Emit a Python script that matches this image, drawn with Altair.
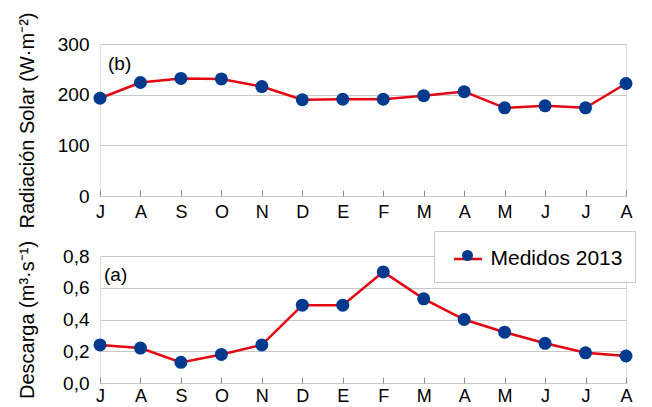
import altair as alt
import pandas as pd

months = ["J", "A", "S", "O", "N", "D", "E", "F", "M", "A", "M", "J", "J", "A"]
radiacion = [193, 224, 232, 231, 216, 190, 191, 191, 198, 206, 174, 178, 174, 222]
descarga = [0.24, 0.22, 0.13, 0.18, 0.24, 0.49, 0.49, 0.70, 0.53, 0.40, 0.32, 0.25, 0.19, 0.17]
serie = "Medidos 2013"
idx = list(range(len(months)))

df_top = pd.DataFrame({"i": idx, "v": radiacion})
df_bot = pd.DataFrame({"i": idx, "v": descarga, "serie": serie, "serie2": serie})
df_lab_top = pd.DataFrame({"i": [0], "v": [260.5], "t": ["(b)"]})
df_lab_bot = pd.DataFrame({"i": [0], "v": [0.683], "t": ["(a)"]})

label_expr = "[" + ",".join(f"'{m}'" for m in months) + "][datum.value]"
FONT = "Liberation Sans"
RED = "#e30613"
BLUE = "#003a8f"
GRID = "#c8c8c8"
BORDER = "#8c8c8c"


def xenc(label_pad):
    return alt.X(
        "i:O",
        scale=alt.Scale(type="point", padding=0),
        axis=alt.Axis(
            title=None, labelExpr=label_expr, labelAngle=0, offset=-6, tickSize=6,
            domain=False, labelPadding=label_pad, labelFontSize=18, tickColor=BORDER,
            grid=False, labelColor="black", labelFont=FONT,
        ),
    )


def yaxis(title, values, pad, fmt=None):
    kw = dict(
        values=values, tickCount=len(values), title=title, ticks=False, tickSize=0,
        domain=False, labelPadding=11, labelFontSize=19, labelFont=FONT,
        labelColor="black", labelOverlap=False,
        titleFontSize=20, titleFont=FONT, titleFontWeight="normal", titleColor="black",
        titlePadding=pad, gridColor=GRID, grid=True,
    )
    if fmt:
        kw["labelExpr"] = fmt
    return alt.Axis(**kw)


LEG_X = 334
LEG_Y = 187
LEG_PAD = 12.5
NB = "\u00a0" * 2

top_y = alt.Y("v:Q", scale=alt.Scale(domain=[0, 300], nice=False),
              axis=yaxis("Radiación Solar (W·m⁻²)", [0, 100, 200, 300], 20))
top_line = alt.Chart(df_top).mark_line(color=RED, strokeWidth=2.5).encode(x=xenc(7), y=top_y)
top_pts = alt.Chart(df_top).mark_circle(color=BLUE, size=169, opacity=1).encode(x="i:O", y="v:Q")
top_txt = alt.Chart(df_lab_top).mark_text(align="left", baseline="middle", dx=8, fontSize=19,
                                          font=FONT, color="black").encode(x="i:O", y="v:Q", text="t:N")
top = alt.layer(top_line, top_pts, top_txt).properties(width=526, height=152)

bot_y = alt.Y("v:Q", scale=alt.Scale(domain=[0, 0.8], nice=False),
              axis=yaxis("Descarga (m³·s⁻¹)", [0, 0.2, 0.4, 0.6, 0.8], 25,
                         "replace(format(datum.value, '.1f'), '.', ',')"))
bot_line = alt.Chart(df_bot).mark_line(strokeWidth=2.5).encode(
    x=xenc(4), y=bot_y,
    color=alt.Color("serie:N", scale=alt.Scale(range=[RED]), legend=alt.Legend(
        title=None, orient="none", legendX=LEG_X, legendY=LEG_Y, symbolType="stroke",
        symbolSize=784, symbolStrokeWidth=2.5, symbolOffset=6, labelFontSize=21,
        labelFont=FONT, labelColor="black", labelOffset=7, padding=LEG_PAD,
        strokeColor=GRID, labelExpr=f"datum.label + '{NB}'", labelLimit=300,
        fillColor="white", zindex=1)),
)
bot_pts = alt.Chart(df_bot).mark_circle(size=169, opacity=1).encode(
    x="i:O", y="v:Q",
    fill=alt.Fill("serie2:N", scale=alt.Scale(range=[BLUE]), legend=alt.Legend(
        title=None, orient="none", legendX=LEG_X, legendY=LEG_Y + 5.5, symbolType="circle",
        symbolSize=121, symbolOffset=14.5, symbolOpacity=1, labelExpr="''",
        labelOffset=0, padding=LEG_PAD, zindex=2)),
)
bot_txt = alt.Chart(df_lab_bot).mark_text(align="left", baseline="middle", dx=4, fontSize=19,
                                          font=FONT, color="black").encode(x="i:O", y="v:Q", text="t:N")
bottom = alt.layer(bot_line, bot_pts, bot_txt).properties(width=526, height=127)

chart = alt.vconcat(top, bottom, spacing=60, bounds="flush").properties(
    padding={"left": 8, "top": 3, "right": 0, "bottom": 0}
).configure_view(stroke=BORDER, strokeWidth=1.5).configure(background="white")

chart.save("out.html", embed_options={"renderer": "svg", "actions": False})
